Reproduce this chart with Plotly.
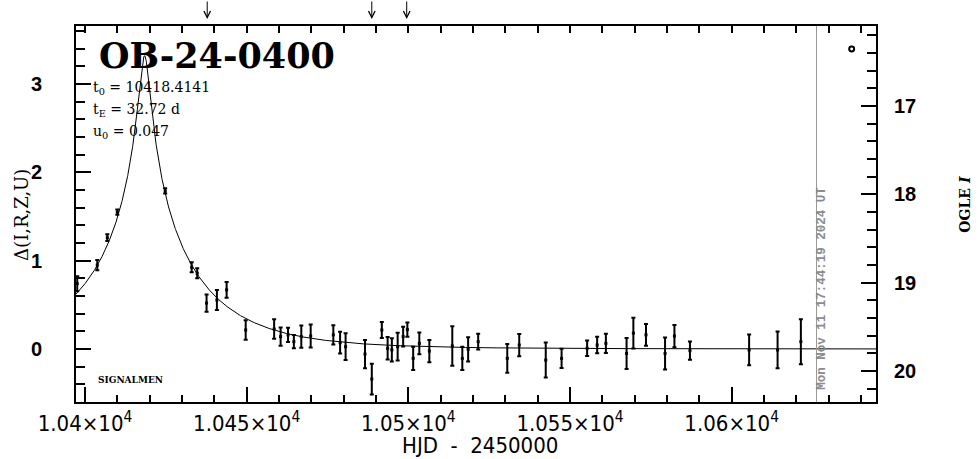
import numpy as np
import plotly.graph_objects as go

# ---------------- data ----------------
event_name = "OB-24-0400"
t0 = 10418.4141
tE = 32.72
u0 = 0.047
now_hjd = 10626.24          # date line (Mon Nov 11 17:44:19 2024 UT)
baseline_I = 19.752         # OGLE I baseline magnitude (Delta = 0)

hjd = [10397.6, 10403.8, 10406.9, 10410.0, 10424.8, 10433.0, 10434.7, 10437.6,
       10440.8, 10443.8, 10449.7, 10458.5, 10460.5, 10462.8, 10464.6, 10466.9,
       10469.8, 10476.8, 10478.9, 10480.6, 10486.6, 10488.7, 10491.8, 10493.6,
       10494.9, 10496.7, 10498.4, 10499.7, 10501.5, 10503.4, 10506.5, 10513.6,
       10516.7, 10518.5, 10521.6, 10530.6, 10534.3, 10542.5, 10547.4, 10555.3,
       10558.4, 10561.1, 10567.5, 10569.6, 10573.5, 10579.4, 10582.3, 10587.1,
       10605.4, 10614.2, 10621.4]
dmag = [0.74, 0.95, 1.26, 1.55, 1.79, 0.925, 0.857, 0.52,
        0.555, 0.67, 0.215, 0.226, 0.14, 0.16, 0.083, 0.14,
        0.147, 0.16, 0.071, 0.026, -0.057, -0.34, 0.215, 0.008,
        -0.01, 0.026, 0.14, 0.22, -0.106, 0.064, -0.023, 0.034,
        -0.106, -0.004, 0.083, -0.106, 0.045, -0.125, -0.106, 0.008,
        0.045, 0.064, -0.05, 0.18, 0.16, -0.05, 0.147, -0.019,
        -0.011, -0.011, 0.083]
derr = [0.085, 0.057, 0.038, 0.03, 0.03, 0.057, 0.057, 0.098,
        0.113, 0.089, 0.11, 0.11, 0.104, 0.081, 0.075, 0.126,
        0.13, 0.108, 0.123, 0.151, 0.16, 0.174, 0.09, 0.128,
        0.132, 0.157, 0.113, 0.081, 0.132, 0.123, 0.126, 0.223,
        0.132, 0.138, 0.089, 0.164, 0.126, 0.198, 0.11, 0.087,
        0.094, 0.11, 0.176, 0.174, 0.123, 0.181, 0.126, 0.104,
        0.174, 0.208, 0.255]
arrow_days = [10437.8, 10488.7, 10499.5]

x_ticks = [10400, 10450, 10500, 10550, 10600]
x_ticktext = ["1.04×10<sup>4</sup>", "1.045×10<sup>4</sup>", "1.05×10<sup>4</sup>",
              "1.055×10<sup>4</sup>", "1.06×10<sup>4</sup>"]
x_range = [10397.22, 10644.64]
y_range = [-0.600, 3.657]

# ---------------- model curve (Paczynski, from displayed parameters) ----------------
t_model = np.linspace(x_range[0], x_range[1], 3000)
u = np.sqrt(u0 ** 2 + ((t_model - t0) / tE) ** 2)
A = (u ** 2 + 2) / (u * np.sqrt(u ** 2 + 4))
d_model = 2.5 * np.log10(A)

fig = go.Figure()
fig.add_trace(go.Scatter(x=t_model, y=d_model, mode="lines",
                         line=dict(color="black", width=1), hoverinfo="skip",
                         showlegend=False))
fig.add_trace(go.Scatter(x=hjd, y=dmag, mode="markers",
                         marker=dict(color="black", size=3, symbol="square"),
                         error_y=dict(type="data", array=derr, color="black",
                                      thickness=2, width=2),
                         showlegend=False))
# dummy traces to bind the right and top axes
fig.add_trace(go.Scatter(x=[x_range[0]], y=[baseline_I], yaxis="y2", mode="markers",
                         marker=dict(opacity=0), showlegend=False, hoverinfo="skip"))
fig.add_trace(go.Scatter(x=[x_range[0]], y=[0], xaxis="x2", mode="markers",
                         marker=dict(opacity=0), showlegend=False, hoverinfo="skip"))

tickfont_num = dict(family="Liberation Sans", size=20, color="black", weight="bold")
xfont = dict(family="Liberation Sans Narrow, DejaVu Sans Condensed, Liberation Sans",
             size=22, color="black")

fig.update_layout(
    width=979, height=459,
    margin=dict(l=76, r=103, t=26, b=57, autoexpand=False),
    paper_bgcolor="white", plot_bgcolor="white",
    showlegend=False,
    xaxis=dict(range=x_range, tickmode="array", tickvals=x_ticks, ticktext=x_ticktext,
               ticks="inside", ticklen=15, tickwidth=2, tickcolor="black",
               showline=True, linewidth=2, linecolor="black", mirror=True,
               showgrid=False, zeroline=False, tickfont=xfont,
               ticklabelstandoff=1, automargin=False,
               minor=dict(tickmode="linear", tick0=10400, dtick=10, ticks="inside",
                          ticklen=7, tickwidth=2, tickcolor="black", showgrid=False)),
    xaxis2=dict(range=x_range, overlaying="x", side="top", anchor="y",
                tickmode="linear", tick0=10400, dtick=10, ticks="inside",
                ticklen=7, tickwidth=2, tickcolor="black", showticklabels=False,
                showgrid=False, zeroline=False, showline=False, automargin=False),
    yaxis=dict(range=y_range, tickmode="linear", tick0=0, dtick=1,
               ticks="inside", ticklen=15, tickwidth=2, tickcolor="black",
               showline=True, linewidth=2, linecolor="black",
               showgrid=False, zeroline=False, tickfont=tickfont_num,
               ticklabelstandoff=28, automargin=False,
               minor=dict(tickmode="linear", tick0=0, dtick=0.2, ticks="inside",
                          ticklen=9, tickwidth=2, tickcolor="black", showgrid=False)),
    yaxis2=dict(range=[baseline_I - y_range[0], baseline_I - y_range[1]],
                overlaying="y", side="right", anchor="x",
                tickmode="linear", tick0=17, dtick=1,
                ticks="inside", ticklen=15, tickwidth=2, tickcolor="black",
                showline=True, linewidth=2, linecolor="black",
                showgrid=False, zeroline=False, tickfont=tickfont_num,
                ticklabelstandoff=12, automargin=False,
                minor=dict(tickmode="linear", tick0=17, dtick=0.2, ticks="inside",
                           ticklen=9, tickwidth=2, tickcolor="black", showgrid=False)),
)

# date line
fig.add_shape(type="line", xref="x", yref="paper", x0=now_hjd, x1=now_hjd, y0=0, y1=1,
              line=dict(color="#999999", width=1))
# open circle symbol (OGLE marker)
fig.add_shape(type="circle", xref="paper", yref="paper",
              x0=0.9696 - 0.0031, x1=0.9696 + 0.0031, y0=0.9388 - 0.0066, y1=0.9388 + 0.0066,
              line=dict(color="black", width=2), fillcolor="white")

ann = []
ann.append(dict(text=event_name, xref="paper", yref="paper", x=0.026, y=0.922,
                xanchor="left", yanchor="middle", showarrow=False,
                font=dict(family="DejaVu Serif", size=35, color="black", weight="bold")))
params = ["t<sub>0</sub> = %.4f" % t0, "t<sub>E</sub> = %.2f d" % tE, "u<sub>0</sub> = %.3f" % u0]
for i, p in enumerate(params):
    ann.append(dict(text=p, xref="paper", yref="paper", x=0.019, y=0.835 - i * 0.059,
                    xanchor="left", yanchor="middle", showarrow=False,
                    font=dict(family="DejaVu Serif", size=14, color="black")))
ann.append(dict(text="SIGNALMEN", xref="paper", yref="paper", x=0.025, y=0.059,
                xanchor="left", yanchor="middle", showarrow=False,
                font=dict(family="DejaVu Serif", size=9, color="black", weight="bold")))
ann.append(dict(text="Mon Nov 11 17:44:19 2024 UT", xref="paper", yref="paper",
                x=0.933, y=0.302, xanchor="center", yanchor="middle", textangle=-90,
                showarrow=False,
                font=dict(family="Liberation Mono", size=12.5, color="#8c8c8c", weight="bold")))
ann.append(dict(text="Δ(I,R,Z,U)", xref="paper", yref="paper", x=-0.069, y=0.497,
                xanchor="center", yanchor="middle", textangle=-90, showarrow=False,
                font=dict(family="DejaVu Serif", size=18, color="black")))
ann.append(dict(text="OGLE <i>I</i>", xref="paper", yref="paper", x=1.111, y=0.527,
                xanchor="center", yanchor="middle", textangle=-90, showarrow=False,
                font=dict(family="DejaVu Serif", size=14, color="black", weight="bold")))
ann.append(dict(text="HJD  -  2450000", xref="paper", yref="paper", x=0.505, y=-0.117,
                xanchor="center", yanchor="middle", showarrow=False, font=xfont))
for d in arrow_days:
    ann.append(dict(text="", x=d, xref="x", y=1.0186, yref="paper", showarrow=True,
                    ax=0, ay=-19, arrowhead=5, arrowsize=1.3, arrowwidth=1,
                    arrowcolor="black"))
fig.update_layout(annotations=ann)

fig.write_html("out.html", config={"displayModeBar": False},
               post_script="document.body.style.margin='0';document.body.style.overflow='hidden';")
